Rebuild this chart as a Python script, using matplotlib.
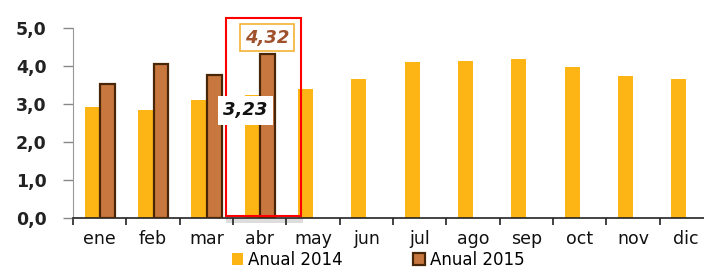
import numpy as np
import matplotlib
matplotlib.use("Agg")
import matplotlib.pyplot as plt
from matplotlib.patches import Rectangle

months = ["ene", "feb", "mar", "abr", "may", "jun", "jul", "ago", "sep", "oct", "nov", "dic"]
anual_2014 = [2.92, 2.84, 3.10, 3.23, 3.39, 3.66, 4.10, 4.13, 4.18, 3.97, 3.74, 3.66]
anual_2015 = [3.53, 4.05, 3.76, 4.32]
yticks = [0, 1, 2, 3, 4, 5]

gold = "#FDB515"
brown = "#C8773F"
dark = "#4A2608"

fig = plt.figure(figsize=(7.04, 2.69), dpi=100)
ax = fig.add_axes([0.1037, 0.1896, 0.909, 0.706])

x = np.arange(len(months))
w = 0.28
b14 = ax.bar(x - 0.14, anual_2014, width=w, color=gold, zorder=2, label="Anual 2014")
x15 = np.arange(len(anual_2015))
b15 = ax.bar(x15 + 0.15, anual_2015, width=w, color=brown, edgecolor=dark, lw=1.6,
             zorder=3, label="Anual 2015")

ax.set_xlim(-0.5, len(months) - 0.5)
ax.set_ylim(0, 5.0)
ax.set_yticks(yticks)
ax.set_yticklabels([f"{v:.1f}".replace(".", ",") for v in yticks],
                   fontsize=12.5, fontweight="bold", color="#222")

# ticks on the category borders, labels in the middle
ax.set_xticks(np.arange(len(months) + 1) - 0.5)
ax.set_xticklabels([])
ax.set_xticks(x, minor=True)
ax.set_xticklabels(months, minor=True, fontsize=12.5, color="#111")
ax.tick_params(axis="x", which="minor", length=0, pad=9)
ax.tick_params(axis="x", which="major", length=5, width=1.2, color="#222")
ax.tick_params(axis="y", length=7, width=1, color="#888", pad=12)

for s in ["top", "right"]:
    ax.spines[s].set_visible(False)
ax.spines["left"].set_color("#999")
ax.spines["bottom"].set_color("#222")
ax.spines["bottom"].set_linewidth(1.2)

# highlight april (with the faint shadow under it)
ax.add_patch(Rectangle((2.37, -0.12), 1.45, 0.12, fc="#ddd", ec="none",
                       clip_on=False, zorder=1))
ax.add_patch(Rectangle((2.37, 0.05), 1.41, 5.21, fill=False, ec="red", lw=1.5,
                       clip_on=False, zorder=4))

ax.text(3.14, 4.74, "4,32", fontsize=13, fontweight="bold", style="italic",
        color="#A0522D", ha="center", va="center", zorder=5,
        bbox=dict(boxstyle="square,pad=0.25", fc="white", ec="#F5B335", lw=1.2))
ax.text(2.73, 2.84, "3,23", fontsize=13, fontweight="bold", style="italic",
        color="#111", ha="center", va="center", zorder=6,
        bbox=dict(boxstyle="square,pad=0.3", fc="white", ec="none"))

fig.legend(handles=[b14, b15], loc="center", bbox_to_anchor=(0.537, 0.034), ncol=2,
           frameon=False, fontsize=12, handlelength=0.7, handleheight=0.7,
           handletextpad=0.3, columnspacing=4.2, borderpad=0.05)

plt.savefig("out.png", dpi=100)
plt.close()
